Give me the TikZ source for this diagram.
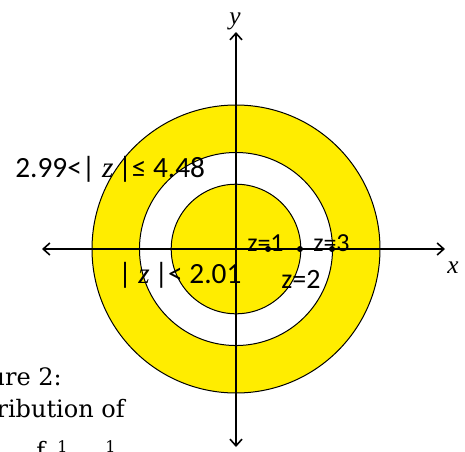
\documentclass[tikz,border=0pt]{standalone}
\usepackage{fontspec}
\setmainfont{Carlito}
\newfontfamily\capfont{DejaVu Serif}
\newfontfamily\varfont{Liberation Serif}
\usetikzlibrary{arrows.meta}
\definecolor{ylw}{RGB}{255,237,0}
\tikzset{
  ring/.style={draw=black, line width=0.75pt},
  axis/.style={line width=1.5pt, {Straight Barb[length=5pt,width=9pt,line width=1.2pt]}-{Straight Barb[length=5pt,width=9pt,line width=1.2pt]}},
  bigtxt/.style={anchor=base west, inner sep=0pt, font=\fontsize{22}{26}\selectfont},
  smalltxt/.style={anchor=base west, inner sep=0pt, font=\fontsize{19.5}{23}\selectfont},
  midtxt/.style={anchor=base west, inner sep=0pt, font=\fontsize{21}{25}\selectfont},
  vartxt/.style={anchor=base west, inner sep=0pt, font=\fontsize{19}{23}\selectfont\varfont\itshape},
  captxt/.style={anchor=base east, inner sep=0pt, font=\fontsize{18}{22}\selectfont\capfont},
  numtxt/.style={anchor=north west, inner sep=0pt, font=\fontsize{12}{14}\selectfont\capfont},
  pt/.style={circle, fill=black, inner sep=0pt, minimum size=4.5pt}
}
\begin{document}
\begin{tikzpicture}[x=0.75pt,y=-0.75pt]
\useasboundingbox (0,0) rectangle (465,451);
% caption fragment (partly outside the picture)
\node[captxt] (cap1) at (62,385) {Figure 2:};
\node[captxt] (cap2) at (125,417) {Distribution of};
\node[anchor=base west, inner sep=0pt, font=\fontsize{18}{22}\selectfont\capfont] (cap3) at (36,459) {f};
\node[numtxt] (n1) at (57,440) {1};
\node[numtxt] (n2) at (105,440) {1};
% regions
\coordinate (O) at (236,249);
\fill[ylw] (O) circle (108pt);
\draw[ring] (O) circle (108pt);
\fill[white] (O) circle (72.4pt);
\draw[ring] (O) circle (72.4pt);
\fill[ylw] (O) circle (48.6pt);
\draw[ring] (O) circle (48.6pt);
% axes
\coordinate (xL) at (42,249);
\coordinate (xR) at (445,249);
\coordinate (yT) at (236,32);
\coordinate (yB) at (236,447);
\draw[axis] (xL) -- (xR);
\draw[axis] (yB) -- (yT);
\node[vartxt] (xlab) at (447,273) {x};
\node[vartxt] (ylab) at (229,24) {y};
% points
\node[pt] (p1) at (268,249) {};
\node[pt] (p2) at (300,249) {};
\node[pt] (p3) at (332,249) {};
% labels
\node[bigtxt] (lab1) at (15,177) {2.99<| {\varfont\itshape z}\,|≤ 4.48};
\node[bigtxt] (lab2) at (118,283) {| {\varfont\itshape z}\,|< 2.01};
\node[smalltxt] (z1) at (247,251) {z=1};
\node[smalltxt] (z3) at (313,251) {z=3};
\node[midtxt] (z2) at (281,288) {z=2};
\end{tikzpicture}
\end{document}
